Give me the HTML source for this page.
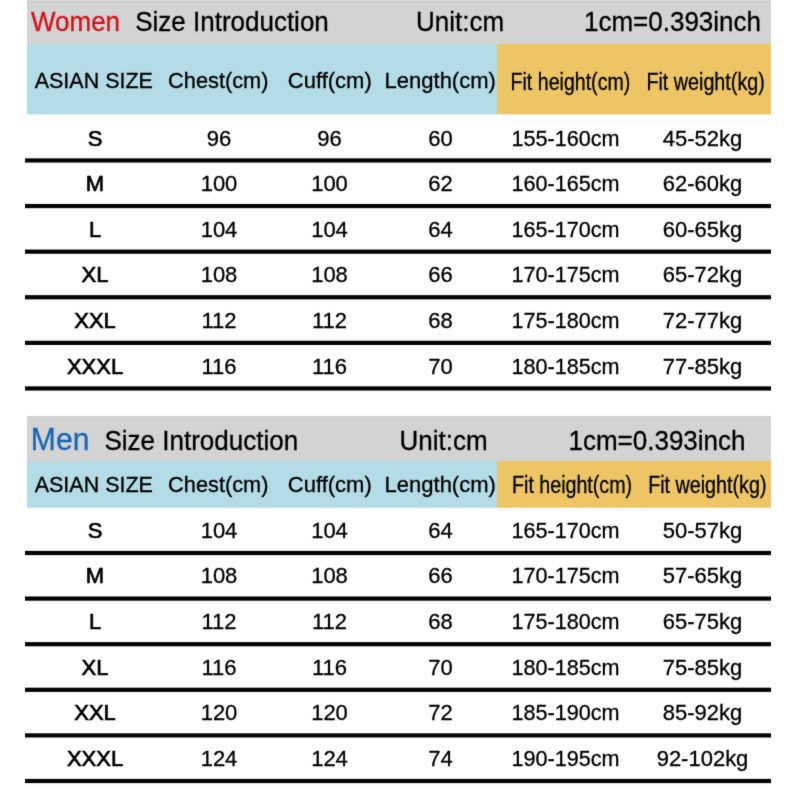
<!DOCTYPE html>
<html><head><meta charset="utf-8"><style>
html,body{margin:0;padding:0;background:#fff;width:800px;height:800px;overflow:hidden}
svg{display:block}
text{font-family:"Liberation Sans",sans-serif}
</style></head><body>
<svg width="800" height="800" viewBox="0 0 800 800">
<defs><filter id="soft" x="0" y="0" width="800" height="800" filterUnits="userSpaceOnUse" color-interpolation-filters="sRGB"><feConvolveMatrix order="3" kernelMatrix="0.01134 0.08382 0.01134 0.08382 0.61935 0.08382 0.01134 0.08382 0.01134" edgeMode="duplicate"/></filter></defs>
<g filter="url(#soft)">
<rect x="0" y="0" width="800" height="800" fill="#fff"/>
<rect x="27" y="0" width="744" height="44" fill="#d3d3d3"/>
<rect x="27" y="0" width="744" height="1" fill="#d9d9d9"/>
<rect x="27" y="1" width="744" height="2" fill="#cdcdcd"/>
<rect x="27" y="44" width="470" height="70.4" fill="#b4dce6"/>
<rect x="497" y="44" width="274" height="70.4" fill="#edc564"/>
<rect x="25" y="158.35" width="746" height="4.2" fill="#000"/>
<rect x="25" y="203.95" width="746" height="4.2" fill="#000"/>
<rect x="25" y="249.55" width="746" height="4.2" fill="#000"/>
<rect x="25" y="295.15" width="746" height="4.2" fill="#000"/>
<rect x="25" y="340.75" width="746" height="4.2" fill="#000"/>
<rect x="25" y="386.35" width="746" height="4.2" fill="#000"/>
<rect x="27" y="416" width="744" height="45" fill="#d3d3d3"/>
<rect x="27" y="461" width="470" height="46.75" fill="#b4dce6"/>
<rect x="497" y="461" width="274" height="46.75" fill="#edc564"/>
<rect x="25" y="550.9" width="746" height="4.2" fill="#000"/>
<rect x="25" y="596.5" width="746" height="4.2" fill="#000"/>
<rect x="25" y="642.1" width="746" height="4.2" fill="#000"/>
<rect x="25" y="687.7" width="746" height="4.2" fill="#000"/>
<rect x="25" y="733.3" width="746" height="4.2" fill="#000"/>
<rect x="25" y="778.9" width="746" height="4.2" fill="#000"/>
<text transform="translate(31 30.6) scale(1 1.04)" text-anchor="start" font-size="26" fill="#d61119" stroke="#d61119" stroke-width="0.3">Women</text>
<text transform="translate(135.2 30.6) scale(1 1.04)" text-anchor="start" font-size="26" fill="#000" stroke="#000" stroke-width="0.3">Size Introduction</text>
<text transform="translate(416 30.6) scale(1 1.04)" text-anchor="start" font-size="26" fill="#000" stroke="#000" stroke-width="0.3">Unit:cm</text>
<text transform="translate(584 30.6) scale(1 1.04)" text-anchor="start" font-size="26" fill="#000" stroke="#000" stroke-width="0.3">1cm=0.393inch</text>
<text transform="translate(93.8 87.7) scale(0.978 1.04)" text-anchor="middle" font-size="22" fill="#000" stroke="#000" stroke-width="0.3">ASIAN SIZE</text>
<text transform="translate(218.3 87.7) scale(0.99 1.04)" text-anchor="middle" font-size="22" fill="#000" stroke="#000" stroke-width="0.3">Chest(cm)</text>
<text transform="translate(329.8 87.7) scale(1 1.04)" text-anchor="middle" font-size="22" fill="#000" stroke="#000" stroke-width="0.3">Cuff(cm)</text>
<text transform="translate(440.2 87.7) scale(1 1.04)" text-anchor="middle" font-size="22" fill="#000" stroke="#000" stroke-width="0.3">Length(cm)</text>
<text transform="translate(570.4 89.5) scale(1 1.04)" text-anchor="middle" font-size="23" fill="#000" stroke="#000" stroke-width="0.3" textLength="119.7" lengthAdjust="spacingAndGlyphs">Fit height(cm)</text>
<text transform="translate(705.6 89.5) scale(1 1.04)" text-anchor="middle" font-size="23" fill="#000" stroke="#000" stroke-width="0.3" textLength="118.4" lengthAdjust="spacingAndGlyphs">Fit weight(kg)</text>
<text transform="translate(95 145.5) scale(1 1.0)" text-anchor="middle" font-size="22" fill="#000" stroke="#000" stroke-width="0.7">S</text>
<text transform="translate(219 145.5) scale(1 1.04)" text-anchor="middle" font-size="22" fill="#000" stroke="#000" stroke-width="0.3">96</text>
<text transform="translate(329.5 145.5) scale(1 1.04)" text-anchor="middle" font-size="22" fill="#000" stroke="#000" stroke-width="0.3">96</text>
<text transform="translate(440.6 145.5) scale(1 1.04)" text-anchor="middle" font-size="22" fill="#000" stroke="#000" stroke-width="0.3">60</text>
<text transform="translate(565.5 145.5) scale(0.982 1.04)" text-anchor="middle" font-size="22" fill="#000" stroke="#000" stroke-width="0.3">155-160cm</text>
<text transform="translate(702.5 145.5) scale(1 1.04)" text-anchor="middle" font-size="22" fill="#000" stroke="#000" stroke-width="0.3">45-52kg</text>
<text transform="translate(95 191.1) scale(1 1.0)" text-anchor="middle" font-size="22" fill="#000" stroke="#000" stroke-width="0.7">M</text>
<text transform="translate(219 191.1) scale(1 1.04)" text-anchor="middle" font-size="22" fill="#000" stroke="#000" stroke-width="0.3">100</text>
<text transform="translate(329.5 191.1) scale(1 1.04)" text-anchor="middle" font-size="22" fill="#000" stroke="#000" stroke-width="0.3">100</text>
<text transform="translate(440.6 191.1) scale(1 1.04)" text-anchor="middle" font-size="22" fill="#000" stroke="#000" stroke-width="0.3">62</text>
<text transform="translate(565.5 191.1) scale(0.982 1.04)" text-anchor="middle" font-size="22" fill="#000" stroke="#000" stroke-width="0.3">160-165cm</text>
<text transform="translate(702.5 191.1) scale(1 1.04)" text-anchor="middle" font-size="22" fill="#000" stroke="#000" stroke-width="0.3">62-60kg</text>
<text transform="translate(95 236.7) scale(1 1.0)" text-anchor="middle" font-size="22" fill="#000" stroke="#000" stroke-width="0.7">L</text>
<text transform="translate(219 236.7) scale(1 1.04)" text-anchor="middle" font-size="22" fill="#000" stroke="#000" stroke-width="0.3">104</text>
<text transform="translate(329.5 236.7) scale(1 1.04)" text-anchor="middle" font-size="22" fill="#000" stroke="#000" stroke-width="0.3">104</text>
<text transform="translate(440.6 236.7) scale(1 1.04)" text-anchor="middle" font-size="22" fill="#000" stroke="#000" stroke-width="0.3">64</text>
<text transform="translate(565.5 236.7) scale(0.982 1.04)" text-anchor="middle" font-size="22" fill="#000" stroke="#000" stroke-width="0.3">165-170cm</text>
<text transform="translate(702.5 236.7) scale(1 1.04)" text-anchor="middle" font-size="22" fill="#000" stroke="#000" stroke-width="0.3">60-65kg</text>
<text transform="translate(95 282.3) scale(1 1.0)" text-anchor="middle" font-size="22" fill="#000" stroke="#000" stroke-width="0.7">XL</text>
<text transform="translate(219 282.3) scale(1 1.04)" text-anchor="middle" font-size="22" fill="#000" stroke="#000" stroke-width="0.3">108</text>
<text transform="translate(329.5 282.3) scale(1 1.04)" text-anchor="middle" font-size="22" fill="#000" stroke="#000" stroke-width="0.3">108</text>
<text transform="translate(440.6 282.3) scale(1 1.04)" text-anchor="middle" font-size="22" fill="#000" stroke="#000" stroke-width="0.3">66</text>
<text transform="translate(565.5 282.3) scale(0.982 1.04)" text-anchor="middle" font-size="22" fill="#000" stroke="#000" stroke-width="0.3">170-175cm</text>
<text transform="translate(702.5 282.3) scale(1 1.04)" text-anchor="middle" font-size="22" fill="#000" stroke="#000" stroke-width="0.3">65-72kg</text>
<text transform="translate(95 327.9) scale(1 1.0)" text-anchor="middle" font-size="22" fill="#000" stroke="#000" stroke-width="0.7">XXL</text>
<text transform="translate(219 327.9) scale(1 1.04)" text-anchor="middle" font-size="22" fill="#000" stroke="#000" stroke-width="0.3">112</text>
<text transform="translate(329.5 327.9) scale(1 1.04)" text-anchor="middle" font-size="22" fill="#000" stroke="#000" stroke-width="0.3">112</text>
<text transform="translate(440.6 327.9) scale(1 1.04)" text-anchor="middle" font-size="22" fill="#000" stroke="#000" stroke-width="0.3">68</text>
<text transform="translate(565.5 327.9) scale(0.982 1.04)" text-anchor="middle" font-size="22" fill="#000" stroke="#000" stroke-width="0.3">175-180cm</text>
<text transform="translate(702.5 327.9) scale(1 1.04)" text-anchor="middle" font-size="22" fill="#000" stroke="#000" stroke-width="0.3">72-77kg</text>
<text transform="translate(95 373.5) scale(1 1.0)" text-anchor="middle" font-size="22" fill="#000" stroke="#000" stroke-width="0.7">XXXL</text>
<text transform="translate(219 373.5) scale(1 1.04)" text-anchor="middle" font-size="22" fill="#000" stroke="#000" stroke-width="0.3">116</text>
<text transform="translate(329.5 373.5) scale(1 1.04)" text-anchor="middle" font-size="22" fill="#000" stroke="#000" stroke-width="0.3">116</text>
<text transform="translate(440.6 373.5) scale(1 1.04)" text-anchor="middle" font-size="22" fill="#000" stroke="#000" stroke-width="0.3">70</text>
<text transform="translate(565.5 373.5) scale(0.982 1.04)" text-anchor="middle" font-size="22" fill="#000" stroke="#000" stroke-width="0.3">180-185cm</text>
<text transform="translate(702.5 373.5) scale(1 1.04)" text-anchor="middle" font-size="22" fill="#000" stroke="#000" stroke-width="0.3">77-85kg</text>
<text transform="translate(30.8 449.7) scale(0.972 1.04)" text-anchor="start" font-size="31" fill="#1769b3" stroke="#1769b3" stroke-width="0.3">Men</text>
<text transform="translate(104.5 449.7) scale(1 1.04)" text-anchor="start" font-size="26" fill="#000" stroke="#000" stroke-width="0.3">Size Introduction</text>
<text transform="translate(399.5 449.7) scale(1 1.04)" text-anchor="start" font-size="26" fill="#000" stroke="#000" stroke-width="0.3">Unit:cm</text>
<text transform="translate(568.5 449.7) scale(1 1.04)" text-anchor="start" font-size="26" fill="#000" stroke="#000" stroke-width="0.3">1cm=0.393inch</text>
<text transform="translate(93.8 492.3) scale(0.978 1.04)" text-anchor="middle" font-size="22" fill="#000" stroke="#000" stroke-width="0.3">ASIAN SIZE</text>
<text transform="translate(218.3 492.3) scale(0.99 1.04)" text-anchor="middle" font-size="22" fill="#000" stroke="#000" stroke-width="0.3">Chest(cm)</text>
<text transform="translate(329.8 492.3) scale(1 1.04)" text-anchor="middle" font-size="22" fill="#000" stroke="#000" stroke-width="0.3">Cuff(cm)</text>
<text transform="translate(440.2 492.3) scale(1 1.04)" text-anchor="middle" font-size="22" fill="#000" stroke="#000" stroke-width="0.3">Length(cm)</text>
<text transform="translate(572.05 492.5) scale(1 1.04)" text-anchor="middle" font-size="23" fill="#000" stroke="#000" stroke-width="0.3" textLength="120.1" lengthAdjust="spacingAndGlyphs">Fit height(cm)</text>
<text transform="translate(707.3 492.5) scale(1 1.04)" text-anchor="middle" font-size="23" fill="#000" stroke="#000" stroke-width="0.3" textLength="118.3" lengthAdjust="spacingAndGlyphs">Fit weight(kg)</text>
<text transform="translate(95 537.8) scale(1 1.0)" text-anchor="middle" font-size="22" fill="#000" stroke="#000" stroke-width="0.7">S</text>
<text transform="translate(219 537.8) scale(1 1.04)" text-anchor="middle" font-size="22" fill="#000" stroke="#000" stroke-width="0.3">104</text>
<text transform="translate(329.5 537.8) scale(1 1.04)" text-anchor="middle" font-size="22" fill="#000" stroke="#000" stroke-width="0.3">104</text>
<text transform="translate(440.6 537.8) scale(1 1.04)" text-anchor="middle" font-size="22" fill="#000" stroke="#000" stroke-width="0.3">64</text>
<text transform="translate(565.5 537.8) scale(0.982 1.04)" text-anchor="middle" font-size="22" fill="#000" stroke="#000" stroke-width="0.3">165-170cm</text>
<text transform="translate(702.5 537.8) scale(1 1.04)" text-anchor="middle" font-size="22" fill="#000" stroke="#000" stroke-width="0.3">50-57kg</text>
<text transform="translate(95 583.4) scale(1 1.0)" text-anchor="middle" font-size="22" fill="#000" stroke="#000" stroke-width="0.7">M</text>
<text transform="translate(219 583.4) scale(1 1.04)" text-anchor="middle" font-size="22" fill="#000" stroke="#000" stroke-width="0.3">108</text>
<text transform="translate(329.5 583.4) scale(1 1.04)" text-anchor="middle" font-size="22" fill="#000" stroke="#000" stroke-width="0.3">108</text>
<text transform="translate(440.6 583.4) scale(1 1.04)" text-anchor="middle" font-size="22" fill="#000" stroke="#000" stroke-width="0.3">66</text>
<text transform="translate(565.5 583.4) scale(0.982 1.04)" text-anchor="middle" font-size="22" fill="#000" stroke="#000" stroke-width="0.3">170-175cm</text>
<text transform="translate(702.5 583.4) scale(1 1.04)" text-anchor="middle" font-size="22" fill="#000" stroke="#000" stroke-width="0.3">57-65kg</text>
<text transform="translate(95 629.0) scale(1 1.0)" text-anchor="middle" font-size="22" fill="#000" stroke="#000" stroke-width="0.7">L</text>
<text transform="translate(219 629.0) scale(1 1.04)" text-anchor="middle" font-size="22" fill="#000" stroke="#000" stroke-width="0.3">112</text>
<text transform="translate(329.5 629.0) scale(1 1.04)" text-anchor="middle" font-size="22" fill="#000" stroke="#000" stroke-width="0.3">112</text>
<text transform="translate(440.6 629.0) scale(1 1.04)" text-anchor="middle" font-size="22" fill="#000" stroke="#000" stroke-width="0.3">68</text>
<text transform="translate(565.5 629.0) scale(0.982 1.04)" text-anchor="middle" font-size="22" fill="#000" stroke="#000" stroke-width="0.3">175-180cm</text>
<text transform="translate(702.5 629.0) scale(1 1.04)" text-anchor="middle" font-size="22" fill="#000" stroke="#000" stroke-width="0.3">65-75kg</text>
<text transform="translate(95 674.6) scale(1 1.0)" text-anchor="middle" font-size="22" fill="#000" stroke="#000" stroke-width="0.7">XL</text>
<text transform="translate(219 674.6) scale(1 1.04)" text-anchor="middle" font-size="22" fill="#000" stroke="#000" stroke-width="0.3">116</text>
<text transform="translate(329.5 674.6) scale(1 1.04)" text-anchor="middle" font-size="22" fill="#000" stroke="#000" stroke-width="0.3">116</text>
<text transform="translate(440.6 674.6) scale(1 1.04)" text-anchor="middle" font-size="22" fill="#000" stroke="#000" stroke-width="0.3">70</text>
<text transform="translate(565.5 674.6) scale(0.982 1.04)" text-anchor="middle" font-size="22" fill="#000" stroke="#000" stroke-width="0.3">180-185cm</text>
<text transform="translate(702.5 674.6) scale(1 1.04)" text-anchor="middle" font-size="22" fill="#000" stroke="#000" stroke-width="0.3">75-85kg</text>
<text transform="translate(95 720.2) scale(1 1.0)" text-anchor="middle" font-size="22" fill="#000" stroke="#000" stroke-width="0.7">XXL</text>
<text transform="translate(219 720.2) scale(1 1.04)" text-anchor="middle" font-size="22" fill="#000" stroke="#000" stroke-width="0.3">120</text>
<text transform="translate(329.5 720.2) scale(1 1.04)" text-anchor="middle" font-size="22" fill="#000" stroke="#000" stroke-width="0.3">120</text>
<text transform="translate(440.6 720.2) scale(1 1.04)" text-anchor="middle" font-size="22" fill="#000" stroke="#000" stroke-width="0.3">72</text>
<text transform="translate(565.5 720.2) scale(0.982 1.04)" text-anchor="middle" font-size="22" fill="#000" stroke="#000" stroke-width="0.3">185-190cm</text>
<text transform="translate(702.5 720.2) scale(1 1.04)" text-anchor="middle" font-size="22" fill="#000" stroke="#000" stroke-width="0.3">85-92kg</text>
<text transform="translate(95 765.8) scale(1 1.0)" text-anchor="middle" font-size="22" fill="#000" stroke="#000" stroke-width="0.7">XXXL</text>
<text transform="translate(219 765.8) scale(1 1.04)" text-anchor="middle" font-size="22" fill="#000" stroke="#000" stroke-width="0.3">124</text>
<text transform="translate(329.5 765.8) scale(1 1.04)" text-anchor="middle" font-size="22" fill="#000" stroke="#000" stroke-width="0.3">124</text>
<text transform="translate(440.6 765.8) scale(1 1.04)" text-anchor="middle" font-size="22" fill="#000" stroke="#000" stroke-width="0.3">74</text>
<text transform="translate(565.5 765.8) scale(0.982 1.04)" text-anchor="middle" font-size="22" fill="#000" stroke="#000" stroke-width="0.3">190-195cm</text>
<text transform="translate(702.5 765.8) scale(1 1.04)" text-anchor="middle" font-size="22" fill="#000" stroke="#000" stroke-width="0.3">92-102kg</text>
</g>
</svg>
</body></html>
